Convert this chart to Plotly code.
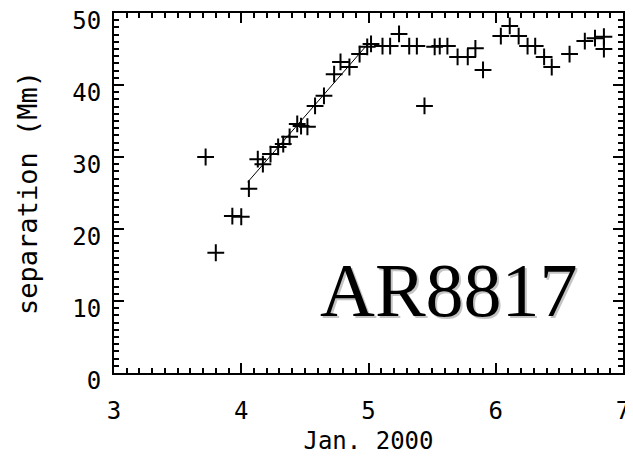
import plotly.graph_objects as go

# separation measurements, day of Jan. 2000
day = [3.72, 3.80, 3.93, 4.00, 4.06, 4.13, 4.17, 4.23, 4.29, 4.33,
       4.38, 4.44, 4.47, 4.52, 4.58, 4.65, 4.73, 4.78, 4.85, 4.93,
       4.99, 5.02, 5.11, 5.17, 5.24, 5.32, 5.38, 5.44, 5.52, 5.56,
       5.62, 5.70, 5.78, 5.84, 5.90, 6.04, 6.11, 6.18, 6.25, 6.31,
       6.38, 6.44, 6.58, 6.70, 6.78, 6.85, 6.85]
sep = [30.0, 16.7, 21.8, 21.7, 25.6, 29.7, 29.0, 30.4, 31.4, 31.8,
       32.8, 34.6, 34.3, 34.2, 37.1, 38.5, 41.5, 43.2, 42.5, 44.3,
       45.3, 45.7, 45.4, 45.4, 47.1, 45.4, 45.4, 37.1, 45.3, 45.4,
       45.4, 43.9, 43.9, 45.1, 42.1, 46.8, 48.2, 46.8, 45.4, 45.4,
       43.9, 42.5, 44.3, 46.1, 46.5, 46.7, 45.0]

# linear fit over the rising phase
fit_day = [4.05, 5.0]
fit_sep = [26.5, 45.8]

x_ticks = [3, 4, 5, 6, 7]
y_ticks = [0, 10, 20, 30, 40, 50]
label = "AR8817"

fig = go.Figure()
fig.add_trace(go.Scatter(x=fit_day, y=fit_sep, mode="lines",
                         line=dict(color="black", width=1), showlegend=False))
fig.add_trace(go.Scatter(x=day, y=sep, mode="markers", showlegend=False,
                         marker=dict(symbol="cross-thin", size=12,
                                     line=dict(color="black", width=2))))

mono = dict(family="DejaVu Sans Mono", size=24, color="black")
axis = dict(showline=True, linecolor="black", linewidth=2, mirror="ticks",
            ticks="inside", tickwidth=2, tickcolor="black", ticklen=10,
            showgrid=False, zeroline=False, tickfont=mono, automargin=False,
            ticklabeloverflow="allow")

fig.update_xaxes(range=[3, 7], tickvals=x_ticks,
                 minor=dict(dtick=0.1, ticks="inside", ticklen=5, tickwidth=1.5, tickcolor="black"),
                 title=dict(text="Jan. 2000", font=mono, standoff=8),
                 ticklabelstandoff=15, **axis)
fig.update_yaxes(range=[0, 50], tickvals=y_ticks,
                 minor=dict(dtick=1, ticks="inside", ticklen=5, tickwidth=1.5, tickcolor="black"),
                 title=dict(text="separation (Mm)", font=dict(mono, size=27), standoff=27),
                 ticklabelstandoff=6, ticklabelshift=8, **axis)

# label with soft shadow
fig.add_annotation(x=4.6, y=5.4, xref="x", yref="y", text=label, showarrow=False,
                   xanchor="left", yanchor="bottom", xshift=2, yshift=-2,
                   font=dict(family="Liberation Serif", size=76, color="#c4c4c4"))
fig.add_annotation(x=4.6, y=5.4, xref="x", yref="y", text=label, showarrow=False,
                   xanchor="left", yanchor="bottom",
                   font=dict(family="Liberation Serif", size=76, color="black"))

# page body adds an 8px margin, so the figure is drawn 8px smaller
fig.update_layout(width=625, height=455, margin=dict(l=106, r=10, t=5, b=90),
                  plot_bgcolor="white", paper_bgcolor="white")

fig.write_html("out.html")
